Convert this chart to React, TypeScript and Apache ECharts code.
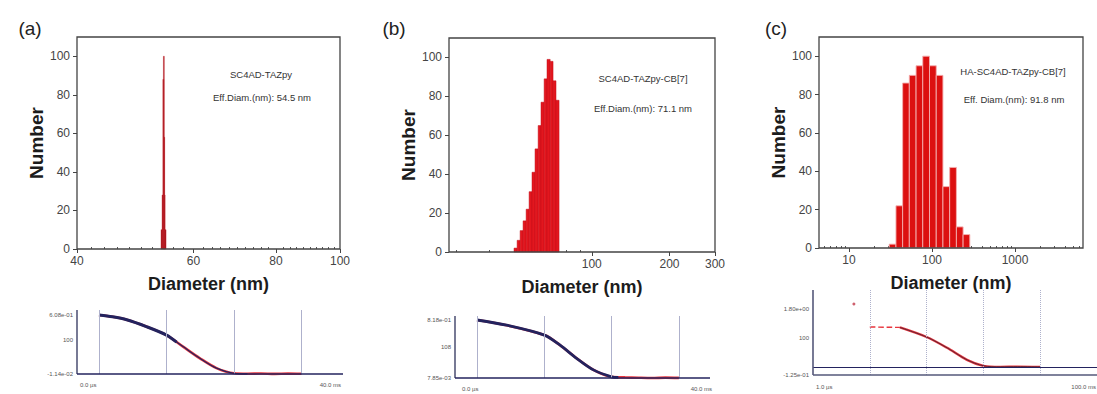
import React, { useEffect, useRef } from "react";
import * as echarts from "echarts";

const FONT = "'Liberation Sans', Arial, Helvetica, sans-serif";

// Number distributions: bin edges (nm) and the count in each bin
const edgesA = [53.6, 53.8, 53.95, 54.05, 54.12, 54.2, 54.35, 54.55];
const countsA = [10, 28, 88, 100, 58, 28, 10];

const edgesB = [50.0, 51.4, 52.8, 54.2, 55.7, 57.2, 58.7, 60.3, 62.0, 63.6, 65.4, 67.1, 69.0, 70.8, 72.7, 74.7];
const countsB = [2, 6, 11, 16, 22, 31, 41, 53, 65, 77, 89, 99, 98, 88, 78];

const edgesC = [30.5, 36.8, 44.3, 53.3, 64.3, 77.4, 93.3, 112.5, 135.5, 163.3, 196.8, 237, 285.6];
const countsC = [2, 22, 86, 90, 95, 100, 95, 90, 32, 42, 11, 7];

// Diameter axes: ranges, labelled ticks and minor ticks
const rangeA = [40, 100];
const ticksA = [40, 60, 80, 100];
const minorA = [42, 44, 46, 48, 50, 52, 54, 56, 58, 62, 64, 66, 68, 70, 72, 74, 76, 78, 82, 84, 86, 88, 90, 92, 94, 96, 98];

const rangeB = [28, 300];
const ticksB = [100, 200, 300];
const minorB = [30, 40, 50, 60, 70, 80, 90];

const rangeC = [4.35, 6600];
const ticksC = [10, 100, 1000];
const minorC = [5, 6, 7, 8, 9, 20, 30, 40, 50, 60, 70, 80, 90, 200, 300, 400, 500, 600, 700, 800, 900, 2000, 3000, 4000, 5000, 6000];

const numberRange = [0, 110];
const numberTicks = [0, 20, 40, 60, 80, 100];

// Correlation functions (time in grid divisions, normalised signal)
const corrTimeA = [0, 0.2, 0.41, 0.71, 1.0, 1.25, 1.49, 1.74, 2.0, 2.2, 2.4, 2.6, 2.8, 3.0];
const corrSignalA = [1.0, 0.97, 0.92, 0.8, 0.66, 0.46, 0.27, 0.1, 0.012, 0.004, 0.009, 0.002, 0.007, 0.003];
const fitTimeA = [0, 0.2, 0.41, 0.71, 1.0, 1.15];
const fitSignalA = [1.0, 0.97, 0.92, 0.8, 0.66, 0.54];
const fitTailTimeA = [1.1, 1.25, 1.49, 1.74, 2.0, 2.2];
const fitTailSignalA = [0.58, 0.46, 0.27, 0.1, 0.012, 0.003];

const corrTimeB = [0, 0.44, 1.0, 1.23, 1.48, 1.73, 2.0, 2.2, 2.4, 2.6, 2.8, 3.0];
const corrSignalB = [1.0, 0.91, 0.74, 0.57, 0.34, 0.14, 0.02, 0.01, 0.004, 0.0, 0.006, 0.002];
const fitTimeB = [0, 0.44, 1.0, 1.23, 1.48, 1.73, 2.0, 2.1];
const fitSignalB = [1.0, 0.91, 0.74, 0.57, 0.34, 0.14, 0.02, 0.01];

const outlierC = [[-0.28, 1.575]];
const earlyTimeC = [0, 0.53];
const earlySignalC = [1.0, 0.99];
const corrTimeC = [0.53, 1.0, 1.36, 1.71, 2.0, 2.3, 2.6, 3.0];
const corrSignalC = [0.99, 0.75, 0.48, 0.18, 0.03, 0.004, 0.008, 0.002];

// Correlation plot ranges (time divisions, signal)
const insetRangeA = { x: [-0.326, 3.615], y: [0, 1.085] };
const insetRangeB = { x: [-0.327, 3.462], y: [0, 1.069] };
const insetRangeC = { x: [-1, 4], y: [-0.2, 1.925] };

// Axis annotations of the correlation plots
const yValsA = [0, 0.58, 1];
const yTextA = ["-1.14e-02", "100", "6.08e-01"];
const yValsB = [0, 0.53, 1];
const yTextB = ["7.85e-03", "108", "8.18e-01"];
const yValsC = [-0.2, 0.72, 1.45];
const yTextC = ["-1.25e-01", "100", "1.80e+00"];

const zip = (xs: number[], ys: number[]) => xs.map((x, i) => [x, ys[i]]);
const lg = (v: number) => Math.log10(v);

const FRAME = "#444";
const NAVY = "#23235e";
const RED = "#e8353d";
const AXIS_GREY = "#55587a";

// Plot rectangles (left, top, width, height)
const boxA = [77, 37, 263, 212];
const boxB = [449, 38, 266, 214];
const boxC = [819, 37, 264, 211];
const boxIA = [77, 310, 266, 64];
const boxIB = [455, 316, 255, 62];
const boxIC = [813, 290, 284, 85];

function sizeAxis(gridIndex: number, range: number[], ticks: number[]) {
  const vals = ticks.map(lg);
  return {
    type: "value",
    gridIndex,
    position: "bottom",
    min: lg(range[0]),
    max: lg(range[1]),
    name: "Diameter (nm)",
    nameLocation: "middle",
    nameGap: 26,
    nameTextStyle: { fontFamily: FONT, fontSize: 18, fontWeight: "bold", color: "#1c1c1c" },
    axisLine: { show: false, onZero: false },
    axisTick: { show: true, length: 4, customValues: vals, lineStyle: { color: FRAME } },
    axisLabel: {
      show: true,
      customValues: vals,
      formatter: (v: number) => String(Math.round(Math.pow(10, v))),
      fontFamily: FONT,
      fontSize: 12,
      color: "#444",
      margin: 6,
    },
    splitLine: { show: false },
  };
}

function minorAxis(gridIndex: number, range: number[], minor: number[]) {
  return {
    type: "value",
    gridIndex,
    position: "bottom",
    min: lg(range[0]),
    max: lg(range[1]),
    axisLine: { show: false, onZero: false },
    axisTick: { show: true, inside: true, length: 2, customValues: minor.map(lg), lineStyle: { color: "#555" } },
    axisLabel: { show: false },
    splitLine: { show: false },
  };
}

function numberAxis(gridIndex: number) {
  return {
    type: "value",
    gridIndex,
    position: "left",
    min: numberRange[0],
    max: numberRange[1],
    name: "Number",
    nameLocation: "middle",
    nameGap: 30,
    nameTextStyle: { fontFamily: FONT, fontSize: 19, fontWeight: "bold", color: "#1c1c1c" },
    axisLine: { show: false, onZero: false },
    axisTick: { show: true, length: 4, customValues: numberTicks, lineStyle: { color: FRAME } },
    axisLabel: { show: true, customValues: numberTicks, fontFamily: FONT, fontSize: 12, color: "#444", margin: 7 },
    splitLine: { show: false },
  };
}

function insetX(gridIndex: number, range: number[]) {
  return {
    type: "value",
    gridIndex,
    position: "bottom",
    min: range[0],
    max: range[1],
    axisLine: { show: false, onZero: false },
    axisTick: { show: false },
    axisLabel: { show: false },
    splitLine: { show: false },
  };
}

function insetY(gridIndex: number, range: number[], vals: number[], texts: string[]) {
  return {
    type: "value",
    gridIndex,
    position: "left",
    min: range[0],
    max: range[1],
    axisLine: { show: false, onZero: false },
    axisTick: { show: false },
    axisLabel: {
      show: true,
      customValues: vals,
      formatter: (v: number) => {
        const i = vals.findIndex((x) => Math.abs(x - v) < 1e-6);
        return i >= 0 ? texts[i] : "";
      },
      fontFamily: FONT,
      fontSize: 6,
      color: "#555",
      margin: 4,
    },
    splitLine: { show: false },
  };
}

function histSeries(idx: number, edges: number[], counts: number[], fill: string, stroke: string, lw: number) {
  const data = counts.map((c, i) => [lg(edges[i]), lg(edges[i + 1]), c]);
  return {
    type: "custom",
    xAxisIndex: idx,
    yAxisIndex: idx,
    silent: true,
    data,
    encode: { x: [0, 1], y: 2 },
    renderItem: (_params: any, api: any) => {
      const p0 = api.coord([api.value(0), api.value(2)]);
      const p1 = api.coord([api.value(1), 0]);
      return {
        type: "rect",
        shape: { x: p0[0], y: p0[1], width: Math.max(p1[0] - p0[0], 0.9), height: p1[1] - p0[1] },
        style: { fill, stroke, lineWidth: lw },
      };
    },
  };
}

function lineSeries(idx: number, data: number[][], color: string, width: number, type = "solid", extra: any = {}) {
  return {
    type: "line",
    xAxisIndex: idx,
    yAxisIndex: idx,
    data,
    showSymbol: false,
    smooth: 0.3,
    silent: true,
    clip: false,
    lineStyle: { color, width, type },
    ...extra,
  };
}

// Time divisions of a correlation plot, plus any reference levels
function insetLines(divType: string, extra: any[] = []) {
  return {
    silent: true,
    symbol: ["none", "none"],
    label: { show: false },
    data: [
      ...[0, 1, 2, 3].map((d) => ({ xAxis: d, lineStyle: { color: "#aeb1cc", width: 1, type: divType } })),
      ...extra,
    ],
  };
}

function frameRect(b: number[]) {
  return {
    type: "rect",
    silent: true,
    z: 100,
    shape: { x: b[0], y: b[1], width: b[2], height: b[3] },
    style: { fill: "none", stroke: FRAME, lineWidth: 1.3 },
  };
}

function segment(x1: number, y1: number, x2: number, y2: number, color: string, width: number) {
  return {
    type: "line",
    silent: true,
    z: 100,
    shape: { x1, y1, x2, y2 },
    style: { stroke: color, lineWidth: width },
  };
}

// Left and bottom axis lines of a correlation plot
function insetAxes(b: number[], bottomColor: string, bottomWidth: number) {
  const x = b[0];
  const yBottom = b[1] + b[3];
  return [
    segment(x, b[1], x, yBottom, AXIS_GREY, 1.6),
    segment(b[0], yBottom, b[0] + b[2], yBottom, bottomColor, bottomWidth),
  ];
}

function text(x: number, y: number, t: string, size: number, align = "center", color = "#333") {
  return {
    type: "text",
    x,
    y,
    silent: true,
    style: {
      text: t,
      fontFamily: FONT,
      fontSize: size,
      fill: color,
      align,
      verticalAlign: "middle",
    },
  };
}

const gridOf = (b: number[]) => ({
  show: false,
  containLabel: false,
  outerBoundsMode: "none",
  left: b[0],
  top: b[1],
  width: b[2],
  height: b[3],
});

export default function App() {
  const ref = useRef<HTMLDivElement>(null);

  useEffect(() => {
    if (!ref.current) return;
    const chart = echarts.init(ref.current, undefined, { renderer: "svg" });

    chart.setOption({
      animation: false,
      backgroundColor: "#ffffff",
      grid: [boxA, boxB, boxC, boxIA, boxIB, boxIC].map(gridOf),
      xAxis: [
        sizeAxis(0, rangeA, ticksA),
        sizeAxis(1, rangeB, ticksB),
        sizeAxis(2, rangeC, ticksC),
        insetX(3, insetRangeA.x),
        insetX(4, insetRangeB.x),
        insetX(5, insetRangeC.x),
        minorAxis(0, rangeA, minorA),
        minorAxis(1, rangeB, minorB),
        minorAxis(2, rangeC, minorC),
      ],
      yAxis: [
        numberAxis(0),
        numberAxis(1),
        numberAxis(2),
        insetY(3, insetRangeA.y, yValsA, yTextA),
        insetY(4, insetRangeB.y, yValsB, yTextB),
        insetY(5, insetRangeC.y, yValsC, yTextC),
      ],
      series: [
        histSeries(0, edgesA, countsA, "#9e1119", "#c8242c", 0.4),
        histSeries(1, edgesB, countsB, "#e3161e", "#c0111a", 0.5),
        histSeries(2, edgesC, countsC, "#dc1010", "#f4b0b0", 0.9),

        lineSeries(3, zip(corrTimeA, corrSignalA), RED, 2.6, "solid", { markLine: insetLines("solid") }),
        lineSeries(3, zip(fitTimeA, fitSignalA), NAVY, 3),
        lineSeries(3, zip(fitTailTimeA, fitTailSignalA), NAVY, 1.2),

        lineSeries(4, zip(corrTimeB, corrSignalB), RED, 2.6, "solid", { markLine: insetLines("solid") }),
        lineSeries(4, zip(fitTimeB, fitSignalB), NAVY, 2.8),

        {
          type: "scatter",
          xAxisIndex: 5,
          yAxisIndex: 5,
          data: outlierC,
          symbolSize: 3,
          silent: true,
          clip: false,
          itemStyle: { color: "#c23a4a" },
          markLine: insetLines("dotted", [{ yAxis: 0, lineStyle: { color: NAVY, width: 1.2, type: "solid" } }]),
        },
        lineSeries(5, zip(earlyTimeC, earlySignalC), RED, 1.4, "dashed", { smooth: false }),
        lineSeries(5, zip(corrTimeC, corrSignalC), RED, 2.4),
        lineSeries(5, zip(corrTimeC, corrSignalC), "#3a2030", 0.8),
      ],
      graphic: [
        frameRect(boxA),
        frameRect(boxB),
        frameRect(boxC),

        ...insetAxes(boxIA, NAVY, 1.6),
        ...insetAxes(boxIB, NAVY, 1.6),
        ...insetAxes(boxIC, AXIS_GREY, 1.6),

        text(30, 28, "(a)", 19, "center", "#222"),
        text(394, 28, "(b)", 19, "center", "#222"),
        text(776, 28, "(c)", 19, "center", "#222"),

        text(261, 74, "SC4AD-TAZpy", 9.5),
        text(262, 97, "Eff.Diam.(nm): 54.5 nm", 9.5),
        text(643, 78, "SC4AD-TAZpy-CB[7]", 9.5),
        text(643, 108, "Eff.Diam.(nm): 71.1 nm", 9.5),
        text(1013, 71, "HA-SC4AD-TAZpy-CB[7]", 9.5),
        text(1014, 99, "Eff. Diam.(nm): 91.8 nm", 9.5),

        text(80, 385, "0.0 µs", 6, "left", "#555"),
        text(341, 385, "40.0 ms", 6, "right", "#555"),
        text(462, 389, "0.0 µs", 6, "left", "#555"),
        text(712, 389, "40.0 ms", 6, "right", "#555"),
        text(816, 387, "1.0 µs", 6, "left", "#555"),
        text(1096, 387, "100.0 ms", 6, "right", "#555"),
      ],
    });

    return () => chart.dispose();
  }, []);

  return (
    <div
      ref={ref}
      style={{ position: "absolute", left: 0, top: 0, width: 1097, height: 394, background: "#fff" }}
    />
  );
}
